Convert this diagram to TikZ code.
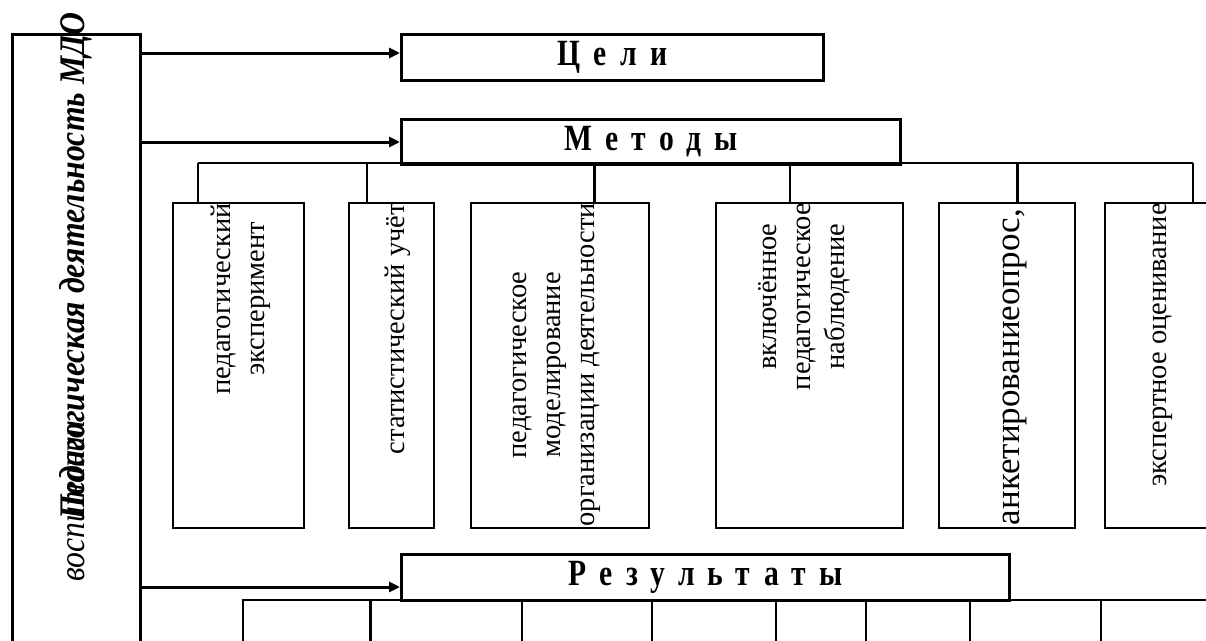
\documentclass[tikz,border=0pt]{standalone}
\usepackage{fontspec}
\setmainfont{Liberation Serif}
\newfontfamily\headfont[FakeStretch=0.8, LetterSpace=36]{Liberation Serif}
\newfontfamily\sidefont[FakeStretch=0.88]{Liberation Serif}
\usetikzlibrary{arrows.meta,calc}
\begin{document}
\begin{tikzpicture}[x=1pt,y=-1pt,
  thickbox/.style={draw, line width=3pt, inner sep=0pt},
  mbox/.style={draw, line width=2.2pt, inner sep=0pt},
  rbox/.style={draw, line width=1.6pt, inner sep=0pt},
  arr/.style={line width=3pt, -{Triangle[length=11pt,width=10pt]}},
  link/.style={line width=2pt},
  vtext/.style={rotate=90, anchor=east, align=center, inner sep=0pt, font=\fontsize{28.5}{34}\selectfont},
  head/.style={font=\headfont\fontsize{37}{38}\bfseries\selectfont},
]
\useasboundingbox (0,0) rectangle (1206,640);
% left box
\node[thickbox, minimum width=128pt, minimum height=700pt, anchor=north west] (L) at (11,33) {};
\node[rotate=90, anchor=west, inner sep=0pt, font=\sidefont\fontsize{36}{36}\itshape\selectfont] (Lt2) at (76,582) {воспитании};
\node[rotate=90, anchor=west, inner sep=0pt, font=\sidefont\fontsize{36}{36}\bfseries\itshape\selectfont] (Lt1) at (76,520) {Педагогическая деятельность МДО};
% heads
\node[thickbox, head, minimum width=422pt, minimum height=46pt, anchor=north west] (G) at (400,33) {Цели};
\node[thickbox, head, minimum width=499pt, minimum height=45pt, anchor=north west] (M) at (400,118) {Методы};
\node[rbox, minimum width=128pt, minimum height=100pt, anchor=north west] (b1) at (242,599) {};
\node[rbox, minimum width=152pt, minimum height=100pt, anchor=north west] (b2) at (369,599) {};
\node[rbox, minimum width=130pt, minimum height=100pt, anchor=north west] (b3) at (521,599) {};
\node[rbox, minimum width=124pt, minimum height=100pt, anchor=north west] (b4) at (651,599) {};
\node[rbox, minimum width=90pt, minimum height=100pt, anchor=north west] (b5) at (775,599) {};
\node[rbox, minimum width=104pt, minimum height=100pt, anchor=north west] (b6) at (865,599) {};
\node[rbox, minimum width=131pt, minimum height=100pt, anchor=north west] (b7) at (969,599) {};
\node[rbox, minimum width=130pt, minimum height=100pt, anchor=north west] (b8) at (1100,599) {};
\node[thickbox, head, minimum width=608pt, minimum height=46pt, anchor=north west, fill=white] (R) at (400,553) {Результаты};
% arrows
\coordinate (a1) at (0,53);
\coordinate (a2) at (0,142);
\coordinate (a3) at (0,587);
\draw[arr] (L.east |- a1) -- (G.west |- a1);
\draw[arr] (L.east |- a2) -- (M.west |- a2);
\draw[arr] (L.east |- a3) -- (R.west |- a3);
% method boxes
\node[mbox, minimum width=131pt, minimum height=325pt, anchor=north west] (m1) at (172,202) {};
\node[mbox, minimum width=85pt, minimum height=325pt, anchor=north west] (m2) at (348,202) {};
\node[mbox, minimum width=178pt, minimum height=325pt, anchor=north west] (m3) at (470,202) {};
\node[mbox, minimum width=187pt, minimum height=325pt, anchor=north west] (m4) at (715,202) {};
\node[mbox, minimum width=136pt, minimum height=325pt, anchor=north west] (m5) at (938,202) {};
\node[mbox, minimum width=136pt, minimum height=325pt, anchor=north west] (m6) at (1104,202) {};
\node[vtext] (t1) at (241,203) {педагогический\\эксперимент};
\node[vtext] (t2) at (398,203) {статистический учёт};
\node[vtext] (t3) at (557,203) {педагогическое\\моделирование\\организации деятельности};
\node[vtext] (t4) at (804,203) {включённое\\педагогическое\\наблюдение};
\node[vtext, font=\fontsize{35}{40}\selectfont] (t5) at (1015,209) {анкетированиеопрос,};
\node[vtext] (t6) at (1163,203) {экспертное оценивание};
% branches
\coordinate (br) at (0,163);
\coordinate (d1) at (198,0);
\coordinate (d2) at (367,0);
\coordinate (d3) at (594,0);
\coordinate (d4) at (790,0);
\coordinate (d5) at (1017,0);
\coordinate (d6) at (1193,0);
\draw[link] (d1 |- br) -- (d6 |- br);
\draw[link] (d1 |- br) -- (d1 |- m1.north);
\draw[link] (d2 |- br) -- (d2 |- m2.north);
\draw[line width=3pt] (d3 |- br) -- (d3 |- m3.north);
\draw[link] (d4 |- br) -- (d4 |- m4.north);
\draw[line width=3pt] (d5 |- br) -- (d5 |- m5.north);
\draw[link] (d6 |- br) -- (d6 |- m6.north);
\end{tikzpicture}
\end{document}
